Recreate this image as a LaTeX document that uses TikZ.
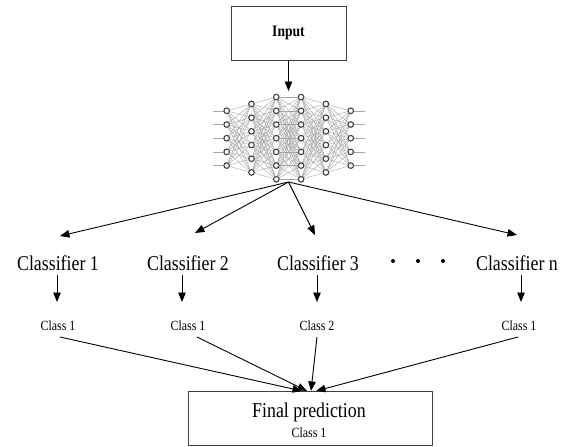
\documentclass[tikz,border=0pt]{standalone}
\usepackage{fontspec}
\setmainfont{Liberation Serif}[FakeStretch=0.85]
\usetikzlibrary{arrows.meta,backgrounds}
\begin{document}
\begin{tikzpicture}[x=1pt,y=-1pt,
  box/.style={draw=black!75,line width=1pt,rectangle,inner sep=0pt},
  arr/.style={-{Triangle[length=9.5pt,width=7.5pt]},line width=0.9pt,black},
  neuron/.style={circle,draw=black!75,fill=white,line width=1.1pt,minimum size=5.6pt,inner sep=0pt},
  netedge/.style={draw=black!35,line width=0.4pt},
  bigtxt/.style={font=\fontsize{21}{23}\selectfont,inner sep=0pt,anchor=base},
  smalltxt/.style={font=\fontsize{14}{16}\selectfont,inner sep=0pt,anchor=base},
  dotmark/.style={circle,fill=black,minimum size=4pt,inner sep=0pt}]
\useasboundingbox (0,0) rectangle (568,447);

% input
\node[box,minimum width=115pt,minimum height=54pt,font=\fontsize{16}{18}\selectfont\bfseries] (input) at (288.5,33) {Input};

% network
\foreach \n [count=\i] in {5,6,7,7,6,5} {
  \foreach \j in {1,...,\n} {
    \node[neuron] (N\i-\j) at ({226.7+24.8*(\i-1)}, {138.2+(\j-(\n+1)/2)*13.7}) {};
  }
}
\begin{pgfonlayer}{background}
\foreach \i/\n/\m/\ip in {1/5/6/2,2/6/7/3,3/7/7/4,4/7/6/5,5/6/5/6} {
  \foreach \j in {1,...,\n} {
    \foreach \k in {1,...,\m} {
      \draw[netedge] (N\i-\j) -- (N\ip-\k);
    }
  }
}
\foreach \j in {1,...,5} {
  \draw[netedge] (N1-\j.center) -- ++(-14,0);
  \draw[netedge] (N6-\j.center) -- ++(14,0);
}
\end{pgfonlayer}
\coordinate (nettop) at (288.5,91);
\coordinate (netbot) at (288.5,182);
\draw[arr] (input.south) -- (nettop);

% classifiers
\node[bigtxt] (c1) at (58,270) {Classifier 1};
\node[bigtxt] (c2) at (188,270) {Classifier 2};
\node[bigtxt] (c3) at (318,270) {Classifier 3};
\node[bigtxt] (cn) at (517,270) {Classifier n};
\node[dotmark] (d1) at (393,261) {};
\node[dotmark] (d2) at (418,261) {};
\node[dotmark] (d3) at (443,261) {};

\coordinate (e1) at (60,236);
\coordinate (e2) at (195,233);
\coordinate (e3) at (315,235);
\coordinate (e4) at (517,235);
\foreach \e in {e1,e2,e3,e4} \draw[arr] (netbot) -- (\e);

% class outputs
\node[smalltxt] (k1) at (58,330) {Class 1};
\node[smalltxt] (k2) at (188,330) {Class 1};
\node[smalltxt] (k3) at (317,330) {Class 2};
\node[smalltxt] (k4) at (519,330) {Class 1};

\coordinate (a1s) at (57,275); \coordinate (a1e) at (57,302);
\coordinate (a2s) at (182,275); \coordinate (a2e) at (182,302);
\coordinate (a3s) at (317,275); \coordinate (a3e) at (317,302);
\coordinate (a4s) at (521,275); \coordinate (a4e) at (521,302);
\foreach \s/\e in {a1s/a1e,a2s/a2e,a3s/a3e,a4s/a4e} \draw[arr] (\s) -- (\e);

% final
\node[box,minimum width=244pt,minimum height=54pt] (final) at (310,418) {};
\node[bigtxt] (fp) at (309,417) {Final prediction};
\node[smalltxt] (fc) at (309,437) {Class 1};

\coordinate (b1s) at (60,337); \coordinate (b1e) at (302,391);
\coordinate (b2s) at (197,337); \coordinate (b2e) at (307,391);
\coordinate (b3s) at (317,337); \coordinate (b3e) at (311,391);
\coordinate (b4s) at (518,337); \coordinate (b4e) at (316,391);
\foreach \s/\e in {b1s/b1e,b2s/b2e,b3s/b3e,b4s/b4e} \draw[arr] (\s) -- (\e);
\end{tikzpicture}
\end{document}
